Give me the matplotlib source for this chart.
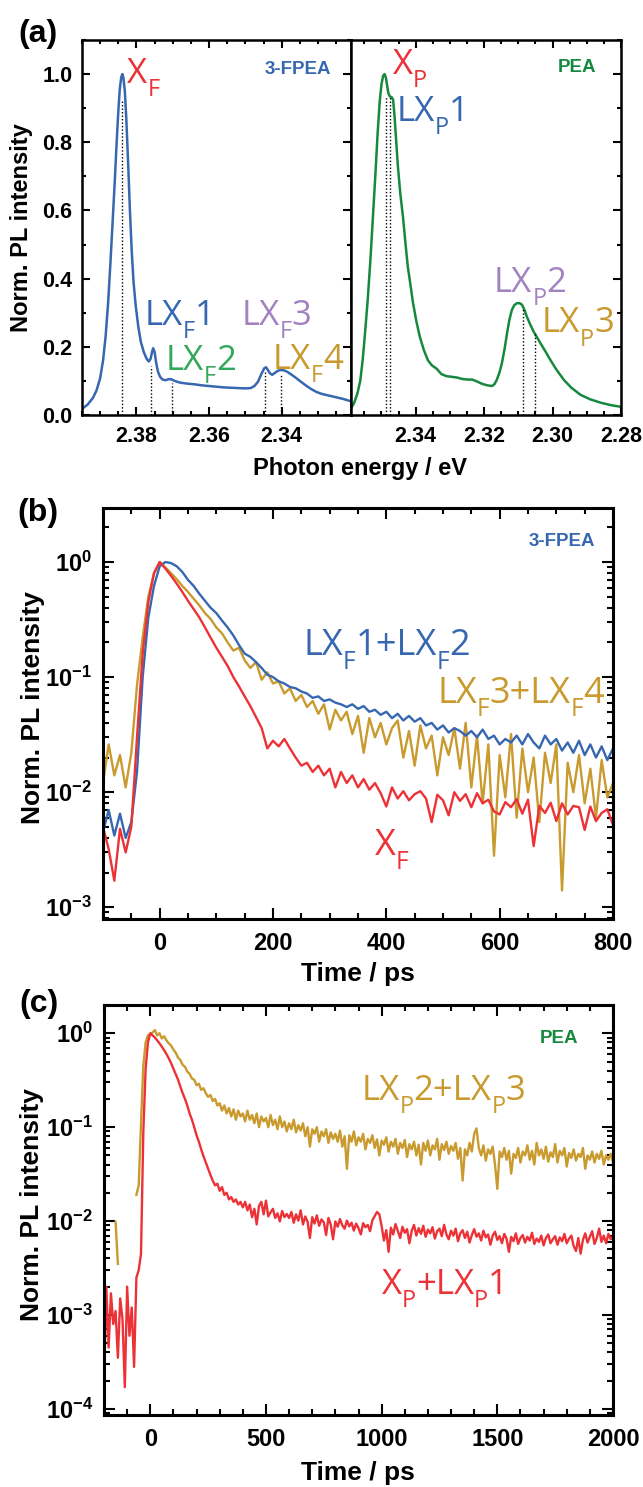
import numpy as np
import matplotlib
matplotlib.use("Agg")
import matplotlib.pyplot as plt
from matplotlib.transforms import offset_copy
from matplotlib.ticker import MultipleLocator, FuncFormatter, LogLocator, NullFormatter

plt.rcParams['font.family'] = ['Liberation Sans', 'DejaVu Sans']
plt.rcParams['font.weight'] = 'bold'
plt.rcParams['mathtext.fontset'] = 'custom'
plt.rcParams['mathtext.rm'] = 'Liberation Sans:bold'
plt.rcParams['mathtext.bf'] = 'Liberation Sans:bold'

RED = '#EC3237'
BLUE = '#3767B1'
GREEN = '#17893E'
LGREEN = '#34A85A'
PURPLE = '#A283C2'
GOLD = '#C99A2E'

# ---------------- (a) PL spectra ----------------
e_fpea = [2.3950, 2.3935, 2.3920, 2.3910, 2.3900, 2.3892, 2.3885, 2.3878, 2.3872, 2.3866,
          2.3860, 2.3855, 2.3850, 2.3846, 2.3842, 2.3839, 2.3836, 2.3832, 2.3828, 2.3823,
          2.3818, 2.3813, 2.3808, 2.3802, 2.3795, 2.3788, 2.3780, 2.3772, 2.3766, 2.3761,
          2.3757, 2.3754, 2.3750, 2.3746, 2.3741, 2.3735, 2.3728, 2.3720, 2.3712, 2.3704,
          2.3695, 2.3680, 2.3660, 2.3640, 2.3620, 2.3600, 2.3580, 2.3560, 2.3540, 2.3520,
          2.3500, 2.3485, 2.3475, 2.3465, 2.3456, 2.3448, 2.3443, 2.3438, 2.3432, 2.3426,
          2.3418, 2.3410, 2.3402, 2.3394, 2.3385, 2.3375, 2.3362, 2.3350, 2.3335, 2.3320,
          2.3305, 2.3290, 2.3270, 2.3250, 2.3230, 2.3209]
i_fpea = [0.018, 0.030, 0.050, 0.072, 0.108, 0.160, 0.230, 0.330, 0.440, 0.560,
          0.680, 0.790, 0.890, 0.955, 0.990, 1.000, 0.990, 0.950, 0.870, 0.740,
          0.600, 0.480, 0.390, 0.320, 0.260, 0.215, 0.185, 0.165, 0.157, 0.165,
          0.185, 0.196, 0.185, 0.155, 0.128, 0.112, 0.104, 0.102, 0.105, 0.105,
          0.100, 0.095, 0.092, 0.090, 0.087, 0.085, 0.083, 0.081, 0.080, 0.079,
          0.078, 0.079, 0.085, 0.098, 0.120, 0.137, 0.140, 0.132, 0.122, 0.118,
          0.124, 0.130, 0.132, 0.131, 0.127, 0.120, 0.110, 0.100, 0.088, 0.077,
          0.068, 0.062, 0.057, 0.052, 0.047, 0.040]

e_pea = [2.3589, 2.3580, 2.3570, 2.3562, 2.3555, 2.3548, 2.3540, 2.3532, 2.3525, 2.3518,
         2.3511, 2.3505, 2.3500, 2.3495, 2.3491, 2.3487, 2.3484, 2.3480, 2.3476, 2.3470,
         2.3466, 2.3462, 2.3458, 2.3452, 2.3445, 2.3437, 2.3430, 2.3423, 2.3415, 2.3408,
         2.3398, 2.3388, 2.3376, 2.3364, 2.3352, 2.3339, 2.3325, 2.3310, 2.3295, 2.3280,
         2.3265, 2.3250, 2.3235, 2.3220, 2.3205, 2.3190, 2.3177, 2.3170, 2.3163, 2.3155,
         2.3148, 2.3140, 2.3133, 2.3126, 2.3119, 2.3112, 2.3104, 2.3096, 2.3089, 2.3082,
         2.3075, 2.3065, 2.3055, 2.3045, 2.3035, 2.3020, 2.3006, 2.2990, 2.2967, 2.2945,
         2.2918, 2.2890, 2.2859, 2.2830, 2.2800]
i_pea = [0.020, 0.035, 0.064, 0.100, 0.160, 0.240, 0.340, 0.460, 0.580, 0.700,
         0.830, 0.920, 0.970, 0.995, 1.000, 0.990, 0.970, 0.945, 0.935, 0.932,
         0.925, 0.880, 0.820, 0.730, 0.650, 0.580, 0.505, 0.435, 0.380, 0.330,
         0.275, 0.230, 0.190, 0.160, 0.145, 0.136, 0.120, 0.114, 0.112, 0.110,
         0.106, 0.104, 0.104, 0.098, 0.091, 0.087, 0.085, 0.090, 0.103, 0.125,
         0.152, 0.195, 0.240, 0.280, 0.308, 0.322, 0.328, 0.328, 0.323, 0.308,
         0.288, 0.265, 0.244, 0.227, 0.210, 0.185, 0.161, 0.135, 0.103, 0.080,
         0.059, 0.046, 0.036, 0.029, 0.024]

# peak markers (energy, height of dotted line)
mark_e_fpea = [2.3839, 2.3759, 2.3703, 2.3445, 2.3403]
mark_h_fpea = [0.92, 0.145, 0.094, 0.125, 0.118]
mark_e_pea = [2.3487, 2.3474, 2.3086, 2.3052]
mark_h_pea = [0.935, 0.935, 0.313, 0.240]

# ---------------- (b) 3-FPEA decays ----------------
t_b = np.arange(-100, 801, 10)
xf_b = [0.0050, 0.0032, 0.0017, 0.0048, 0.0030, 0.0050, 0.030, 0.16, 0.45, 0.80,
        1.00, 0.88, 0.76, 0.65, 0.55, 0.46, 0.39, 0.33, 0.27, 0.22,
        0.18, 0.15, 0.125, 0.10, 0.083, 0.068, 0.056, 0.045, 0.036, 0.024,
        0.028, 0.025, 0.029, 0.024, 0.020, 0.017, 0.018, 0.015, 0.017, 0.014,
        0.016, 0.011, 0.015, 0.012, 0.014, 0.011, 0.013, 0.0105, 0.012, 0.0098,
        0.0075, 0.011, 0.0088, 0.0102, 0.0085, 0.0096, 0.0102, 0.0088, 0.0055, 0.0095,
        0.0085, 0.0063, 0.0100, 0.0084, 0.0096, 0.0074, 0.0098, 0.0080, 0.0086, 0.0068,
        0.0064, 0.0082, 0.0074, 0.0087, 0.0065, 0.0086, 0.0034, 0.0076, 0.0066, 0.0081,
        0.0056, 0.0080, 0.0064, 0.0076, 0.0074, 0.0047, 0.0075, 0.0056, 0.0066, 0.0071,
        0.0052]
lx12_b = [0.0045, 0.0070, 0.0042, 0.0065, 0.0040, 0.0055, 0.015, 0.10, 0.33, 0.62,
          0.92, 1.00, 0.98, 0.92, 0.82, 0.70, 0.62, 0.53, 0.46, 0.40,
          0.36, 0.31, 0.27, 0.23, 0.19, 0.16, 0.15, 0.135, 0.12, 0.105,
          0.100, 0.092, 0.088, 0.082, 0.080, 0.075, 0.072, 0.066, 0.068, 0.062,
          0.064, 0.060, 0.058, 0.055, 0.058, 0.053, 0.056, 0.050, 0.052, 0.047,
          0.050, 0.044, 0.048, 0.042, 0.046, 0.041, 0.044, 0.038, 0.040, 0.035,
          0.038, 0.033, 0.036, 0.034, 0.031, 0.034, 0.030, 0.035, 0.029, 0.031,
          0.026, 0.029, 0.027, 0.031, 0.026, 0.032, 0.027, 0.024, 0.031, 0.026,
          0.029, 0.023, 0.027, 0.022, 0.028, 0.021, 0.026, 0.020, 0.025, 0.019,
          0.024]
lx34_b = [0.012, 0.026, 0.014, 0.021, 0.011, 0.022, 0.085, 0.22, 0.50, 0.80,
          1.00, 0.90, 0.80, 0.71, 0.62, 0.55, 0.48, 0.42, 0.36, 0.32,
          0.27, 0.24, 0.20, 0.17, 0.18, 0.14, 0.12, 0.135, 0.095, 0.11,
          0.088, 0.092, 0.072, 0.080, 0.062, 0.070, 0.055, 0.062, 0.048, 0.058,
          0.035, 0.052, 0.042, 0.050, 0.032, 0.046, 0.022, 0.044, 0.030, 0.040,
          0.026, 0.036, 0.042, 0.020, 0.034, 0.017, 0.038, 0.024, 0.031, 0.014,
          0.030, 0.021, 0.036, 0.016, 0.040, 0.011, 0.031, 0.008, 0.026, 0.0028,
          0.021, 0.009, 0.032, 0.006, 0.024, 0.010, 0.020, 0.0055, 0.022, 0.012,
          0.026, 0.0014, 0.018, 0.010, 0.021, 0.008, 0.016, 0.006, 0.019, 0.009,
          0.012]

# ---------------- (c) PEA decays ----------------
nan = np.nan
t_c = np.arange(-200, 2001, 10)
xp_c = [0.00018, 0.0020, 0.00045, 0.0017, 0.0008, 0.0011, 0.00035, 0.0015, 0.0009, 0.00017,
        0.0020, 0.0006, 0.0012, 0.00028, 0.0025, 0.0030, 0.0045, 0.09, 0.42, 0.80,
        1.00, 0.95, 0.90, 0.84, 0.78, 0.72, 0.66, 0.60, 0.54, 0.48,
        0.42, 0.37, 0.32, 0.27, 0.23, 0.20, 0.17, 0.14, 0.12, 0.10,
        0.082, 0.070, 0.058, 0.049, 0.042, 0.036, 0.031, 0.027, 0.024, 0.025,
        0.021, 0.023, 0.019, 0.020, 0.017, 0.018, 0.016, 0.017, 0.015, 0.016,
        0.014, 0.016, 0.013, 0.015, 0.011, 0.0135, 0.0092, 0.0145, 0.0160, 0.0118,
        0.0165, 0.0112, 0.0124, 0.0135, 0.0108, 0.0121, 0.0099, 0.0128, 0.0110, 0.0119,
        0.0108, 0.0125, 0.0096, 0.0118, 0.0101, 0.0130, 0.0092, 0.0112, 0.0098, 0.0066,
        0.0110, 0.0094, 0.0115, 0.0089, 0.0104, 0.0097, 0.0071, 0.0108, 0.0092, 0.0064,
        0.0099, 0.0087, 0.0105, 0.0090, 0.0083, 0.0101, 0.0088, 0.0096, 0.0079, 0.0094,
        0.0084, 0.0072, 0.0095, 0.0086, 0.0091, 0.0078, 0.0102, 0.0113, 0.0125, 0.0118,
        0.0088, 0.0062, 0.0080, 0.0047, 0.0085, 0.0072, 0.0093, 0.0078, 0.0066, 0.0087,
        0.0075, 0.0082, 0.0058, 0.0079, 0.0091, 0.0070, 0.0084, 0.0073, 0.0089, 0.0068,
        0.0081, 0.0074, 0.0086, 0.0065, 0.0078, 0.0083, 0.0069, 0.0091, 0.0072, 0.0064,
        0.0079, 0.0070, 0.0083, 0.0061, 0.0074, 0.0080, 0.0066, 0.0077, 0.0059, 0.0071,
        0.0082, 0.0068, 0.0074, 0.0062, 0.0079, 0.0067, 0.0072, 0.0056, 0.0070, 0.0077,
        0.0063, 0.0069, 0.0058, 0.0073, 0.0065, 0.0047, 0.0068, 0.0061, 0.0074, 0.0057,
        0.0066, 0.0071, 0.0059, 0.0068, 0.0062, 0.0075, 0.0057, 0.0065, 0.0060, 0.0070,
        0.0055, 0.0066, 0.0072, 0.0058, 0.0064, 0.0069, 0.0056, 0.0067, 0.0061, 0.0073,
        0.0058, 0.0065, 0.0070, 0.0054, 0.0048, 0.0066, 0.0045, 0.0063, 0.0074, 0.0059,
        0.0068, 0.0078, 0.0057, 0.0066, 0.0083, 0.0060, 0.0070, 0.0058, 0.0073, 0.0064,
        0.0069]
lx23_c = [nan, nan, nan, nan, nan, 0.0098, 0.0035, nan, nan, nan,
          nan, nan, nan, nan, 0.019, 0.024, 0.11, 0.45, 0.80, 0.95,
          0.98, 1.02, 1.08, 0.95, 1.00, 0.88, 0.93, 0.84, 0.78, 0.74,
          0.67, 0.62, 0.55, 0.52, 0.46, 0.44, 0.39, 0.37, 0.33, 0.32,
          0.28, 0.29, 0.25, 0.26, 0.23, 0.21, 0.22, 0.19, 0.20, 0.17,
          0.18, 0.15, 0.17, 0.14, 0.16, 0.13, 0.155, 0.12, 0.15, 0.13,
          0.14, 0.115, 0.15, 0.12, 0.135, 0.11, 0.14, 0.10, 0.13, 0.115,
          0.125, 0.10, 0.135, 0.105, 0.12, 0.095, 0.13, 0.10, 0.115, 0.09,
          0.11, 0.095, 0.12, 0.088, 0.105, 0.092, 0.11, 0.08, 0.10, 0.062,
          0.095, 0.085, 0.10, 0.07, 0.09, 0.08, 0.095, 0.068, 0.088, 0.075,
          0.085, 0.07, 0.092, 0.062, 0.08, 0.036, 0.082, 0.07, 0.09, 0.064,
          0.078, 0.07, 0.085, 0.058, 0.075, 0.068, 0.082, 0.06, 0.074, 0.05,
          0.072, 0.065, 0.078, 0.055, 0.07, 0.062, 0.075, 0.052, 0.068, 0.06,
          0.073, 0.048, 0.066, 0.058, 0.07, 0.05, 0.065, 0.04, 0.068, 0.056,
          0.072, 0.05, 0.064, 0.058, 0.075, 0.045, 0.066, 0.057, 0.07, 0.052,
          0.063, 0.056, 0.068, 0.046, 0.06, 0.027, 0.058, 0.05, 0.068, 0.055,
          0.085, 0.097, 0.06, 0.05, 0.064, 0.044, 0.058, 0.052, 0.062, 0.04,
          0.022, 0.055, 0.048, 0.06, 0.045, 0.056, 0.032, 0.052, 0.047, 0.06,
          0.042, 0.055, 0.05, 0.064, 0.045, 0.056, 0.04, 0.068, 0.05, 0.058,
          0.046, 0.062, 0.043, 0.054, 0.048, 0.066, 0.042, 0.056, 0.05, 0.06,
          0.038, 0.053, 0.047, 0.058, 0.044, 0.052, 0.048, 0.06, 0.036, 0.05,
          0.045, 0.055, 0.042, 0.052, 0.046, 0.056, 0.04, 0.05, 0.045, 0.052,
          0.042]

W, H = 643, 1487
fig = plt.figure(figsize=(W / 100, H / 100), dpi=100)
rend = fig.canvas.get_renderer()


def frac(x0, y0, x1, y1):
    # pixel box -> figure fraction [left, bottom, width, height]
    return [x0 / W, 1 - y1 / H, (x1 - x0) / W, (y1 - y0) / H]


def lab(ax, x, y, s, color, size=25):
    # label like "LX_F1": the one char after "_" is drawn as a lowered subscript
    pieces = []
    i = 0
    while i < len(s):
        if s[i] == '_':
            pieces.append((s[i + 1], True))
            i += 2
        else:
            j = i
            while j < len(s) and s[j] != '_':
                j += 1
            pieces.append((s[i:j], False))
            i = j
    em = size * fig.dpi / 72
    dx = 0
    for txt, sub in pieces:
        tr = offset_copy(ax.transData, fig=fig, x=dx, y=-0.38 * em if sub else 0, units='dots')
        t = ax.text(x, y, txt, transform=tr, color=color, fontsize=size * 0.68 if sub else size,
                    family='Open Sans', fontweight='normal', va='baseline')
        dx += t.get_window_extent(renderer=rend).width


# ----- panel (a) -----
axL = fig.add_axes(frac(82, 40, 351, 415))
axR = fig.add_axes(frac(351, 40, 621, 415))

axL.plot(e_fpea, i_fpea, color=BLUE, lw=1.8)
axL.vlines(mark_e_fpea, 0, mark_h_fpea, colors='k', linestyles=(0, (1, 1.5)), lw=1)
axR.plot(e_pea, i_pea, color=GREEN, lw=1.8)
axR.vlines(mark_e_pea, 0, mark_h_pea, colors='k', linestyles=(0, (1, 1.5)), lw=1)

axL.set_xlim(2.395, 2.3209)
axR.set_xlim(2.3589, 2.28)
for ax in (axL, axR):
    ax.set_ylim(0, 1.1)
    ax.xaxis.set_major_locator(MultipleLocator(0.02))
    ax.xaxis.set_minor_locator(MultipleLocator(0.005))
    ax.yaxis.set_major_locator(MultipleLocator(0.2))
    ax.yaxis.set_minor_locator(MultipleLocator(0.1))
    ax.xaxis.set_major_formatter(FuncFormatter(lambda v, p: '%.2f' % v))
    ax.tick_params(which='both', direction='in', top=True, width=1.5, labelsize=15.5)
    ax.tick_params(which='major', length=6)
    ax.tick_params(which='minor', length=3)
    ax.tick_params(axis='x', pad=8)
    ax.tick_params(axis='y', pad=7)
    for s in ax.spines.values():
        s.set_linewidth(1.8)
axL.tick_params(which='both', right=True)
axL.yaxis.set_major_formatter(FuncFormatter(lambda v, p: '%.1f' % v))
axR.tick_params(which='both', left=False, right=True, labelleft=False)

lab(axL, 2.3825, 0.975, 'X_F', RED)
lab(axL, 2.3777, 0.265, 'LX_F1', BLUE)
lab(axL, 2.3720, 0.132, 'LX_F2', LGREEN)
lab(axL, 2.3511, 0.265, 'LX_F3', PURPLE)
lab(axL, 2.3424, 0.136, 'LX_F4', GOLD)
axL.text(2.3447, 1.012, '3-FPEA', color=BLUE, fontsize=13.5, fontweight='bold', va='center')
lab(axR, 2.3467, 1.0, 'X_P', RED)
lab(axR, 2.3457, 0.862, 'LX_P1', BLUE)
lab(axR, 2.3171, 0.362, 'LX_P2', PURPLE)
lab(axR, 2.3032, 0.242, 'LX_P3', GOLD)
axR.text(2.2986, 1.02, 'PEA', color=GREEN, fontsize=13.5, fontweight='bold', va='center')

fig.text(360 / W, 1 - 469 / H, 'Photon energy / eV', ha='center', va='center', fontsize=17)
fig.text(22 / W, 1 - 228 / H, 'Norm. PL intensity', rotation=90, ha='center', va='center', fontsize=17)
fig.text(18 / W, 1 - 34 / H, '(a)', ha='left', va='center', fontsize=23)


def log_axis(ax, xmajor, xminor):
    ax.set_yscale('log')
    ax.xaxis.set_major_locator(MultipleLocator(xmajor))
    ax.xaxis.set_minor_locator(MultipleLocator(xminor))
    ax.yaxis.set_major_locator(LogLocator(base=10, numticks=20))
    ax.yaxis.set_minor_locator(LogLocator(base=10, subs=np.arange(2, 10), numticks=20))
    ax.yaxis.set_minor_formatter(NullFormatter())
    ax.yaxis.set_major_formatter(FuncFormatter(lambda v, p: r'$\mathbf{10^{%d}}$' % round(np.log10(v))))
    ax.tick_params(which='both', direction='in', top=True, right=True, width=1.5, labelsize=17)
    ax.tick_params(which='major', length=8)
    ax.tick_params(which='minor', length=4)
    ax.tick_params(axis='x', pad=9)
    ax.tick_params(axis='y', pad=8)
    for s in ax.spines.values():
        s.set_linewidth(2.2)


# ----- panel (b) -----
axb = fig.add_axes(frac(103, 508, 613, 919))
axb.plot(t_b, lx34_b, color=GOLD, lw=1.7)
axb.plot(t_b, lx12_b, color=BLUE, lw=1.7)
axb.plot(t_b, xf_b, color=RED, lw=1.7)
log_axis(axb, 200, 50)
axb.set_xlim(-100, 800)
axb.set_ylim(7.9e-4, 2.95)
lab(axb, 253, 0.156, 'LX_F1+LX_F2', BLUE, size=26)
lab(axb, 490, 0.060, 'LX_F3+LX_F4', GOLD, size=26)
lab(axb, 379, 0.00285, 'X_F', RED, size=26)
axb.text(768, 1.51, '3-FPEA', color=BLUE, fontsize=13.5, fontweight='bold', ha='right', va='center')
fig.text(358 / W, 1 - 974 / H, 'Time / ps', ha='center', va='center', fontsize=19)
fig.text(33 / W, 1 - 708 / H, 'Norm. PL intensity', rotation=90, ha='center', va='center', fontsize=19)
fig.text(17 / W, 1 - 513 / H, '(b)', ha='left', va='center', fontsize=23)

# ----- panel (c) -----
axc = fig.add_axes(frac(104, 1005, 613, 1415))
axc.plot(t_c, lx23_c, color=GOLD, lw=1.7)
axc.plot(t_c, xp_c, color=RED, lw=1.7)
log_axis(axc, 500, 100)
axc.set_xlim(-200, 2000)
axc.set_ylim(8.6e-5, 2.0)
lab(axc, 912, 0.194, 'LX_P2+LX_P3', GOLD)
lab(axc, 1000, 0.00167, 'X_P+LX_P1', RED)
axc.text(1849, 0.885, 'PEA', color=GREEN, fontsize=13.5, fontweight='bold', ha='right', va='center')
fig.text(358 / W, 1 - 1473 / H, 'Time / ps', ha='center', va='center', fontsize=19)
fig.text(32 / W, 1 - 1205 / H, 'Norm. PL intensity', rotation=90, ha='center', va='center', fontsize=19)
fig.text(19 / W, 1 - 1004 / H, '(c)', ha='left', va='center', fontsize=23)

fig.savefig('out.png', dpi=100)
